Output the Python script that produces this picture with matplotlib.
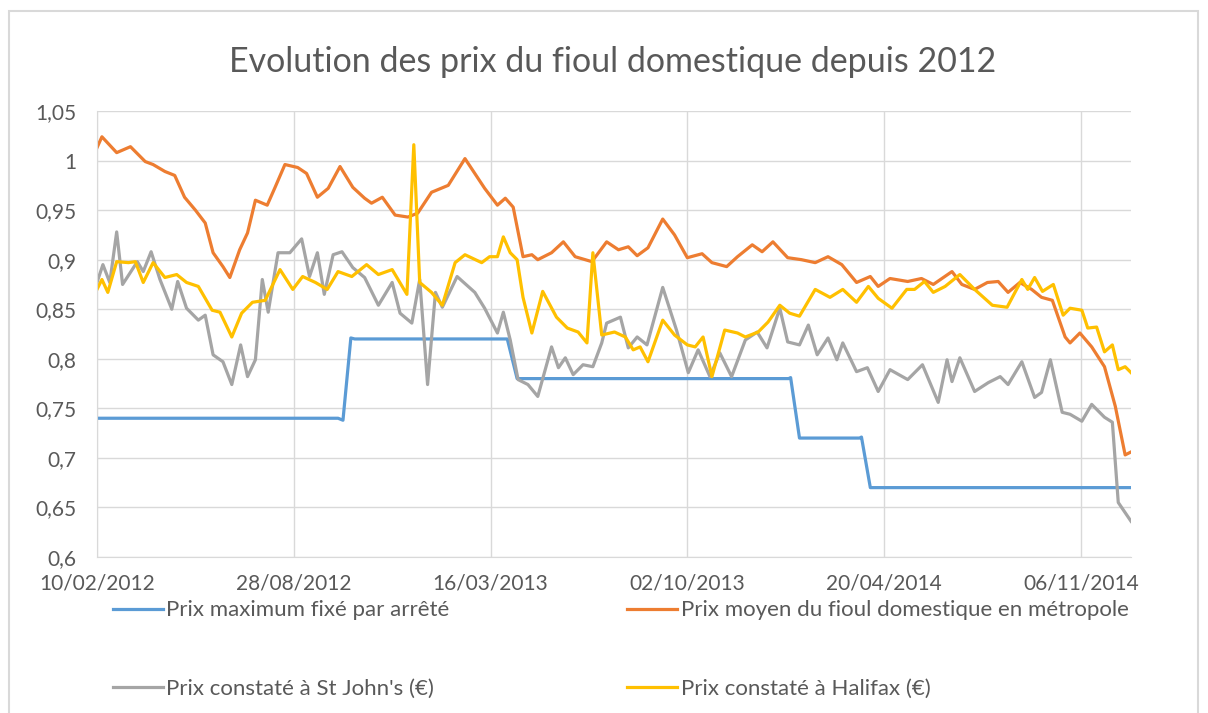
import pandas as pd
import matplotlib
matplotlib.use('Agg')
from matplotlib import pyplot as plt
from matplotlib.patches import Rectangle
from matplotlib.ticker import FuncFormatter

plt.rcParams['font.family'] = ['Lato', 'DejaVu Sans']

#données (jours depuis le 10/02/2012, prix en €/l)
start = pd.Timestamp('2012-02-10')

max_days = [0, 245, 250, 258, 262, 417, 427, 703, 705, 714, 775, 777, 786, 1051]
max_prix = [0.74, 0.74, 0.738, 0.821, 0.82, 0.82, 0.78, 0.78, 0.781, 0.72, 0.72, 0.721, 0.67, 0.67]

moyen_days = [0, 5, 20, 34, 49, 57, 69, 79, 89, 100, 110, 118, 128, 135, 145, 153, 161, 173,
              181, 191, 204, 213, 224, 235, 247, 260, 272, 279, 290, 303, 316, 326, 340, 357,
              374, 394, 407, 415, 423, 433, 442, 448, 462, 474, 486, 503, 518, 530, 540, 549,
              560, 575, 587, 600, 615, 625, 640, 651, 666, 676, 687, 702, 716, 730, 743, 757,
              772, 786, 794, 806, 824, 838, 850, 869, 879, 892, 905, 916, 926, 938, 950, 960,
              971, 984, 989, 999, 1011, 1024, 1035, 1045, 1051]
moyen_prix = [1.013, 1.024, 1.008, 1.014, 0.999, 0.996, 0.989, 0.985, 0.963, 0.95, 0.937, 0.907,
              0.893, 0.882, 0.91, 0.927, 0.96, 0.955, 0.973, 0.996, 0.993, 0.987, 0.963, 0.972,
              0.994, 0.973, 0.962, 0.957, 0.963, 0.945, 0.943, 0.947, 0.968, 0.975, 1.002, 0.972,
              0.955, 0.962, 0.953, 0.903, 0.905, 0.9, 0.907, 0.918, 0.903, 0.898, 0.918, 0.91,
              0.913, 0.904, 0.912, 0.941, 0.925, 0.902, 0.906, 0.897, 0.893, 0.903, 0.915, 0.908,
              0.918, 0.902, 0.9, 0.897, 0.903, 0.895, 0.877, 0.883, 0.873, 0.881, 0.878, 0.881,
              0.875, 0.888, 0.875, 0.87, 0.877, 0.878, 0.867, 0.877, 0.87, 0.862, 0.859, 0.822,
              0.816, 0.826, 0.812, 0.792, 0.752, 0.703, 0.706]

stjohns_days = [0, 6, 13, 20, 26, 41, 47, 55, 64, 76, 82, 91, 103, 110, 118, 128, 137, 146, 153,
                161, 168, 174, 184, 196, 208, 216, 224, 231, 240, 249, 260, 272, 286, 300, 308,
                320, 328, 336, 344, 351, 366, 384, 394, 407, 413, 420, 428, 438, 448, 462, 469,
                476, 484, 494, 504, 513, 518, 532, 540, 549, 559, 575, 589, 601, 611, 623, 633,
                645, 659, 671, 681, 694, 702, 714, 723, 732, 743, 752, 758, 772, 783, 794, 806,
                824, 839, 855, 864, 869, 877, 892, 906, 918, 926, 940, 953, 960, 969, 981, 989,
                1001, 1011, 1024, 1032, 1038, 1051]
stjohns_prix = [0.877, 0.895, 0.877, 0.928, 0.875, 0.898, 0.888, 0.908, 0.88, 0.85, 0.878, 0.851,
                0.839, 0.844, 0.804, 0.797, 0.774, 0.814, 0.782, 0.799, 0.88, 0.847, 0.907, 0.907,
                0.921, 0.883, 0.907, 0.865, 0.905, 0.908, 0.892, 0.882, 0.854, 0.877, 0.846, 0.836,
                0.88, 0.774, 0.867, 0.852, 0.883, 0.867, 0.851, 0.826, 0.847, 0.819, 0.779, 0.774,
                0.762, 0.812, 0.791, 0.801, 0.784, 0.794, 0.792, 0.816, 0.836, 0.842, 0.811, 0.822,
                0.814, 0.872, 0.829, 0.786, 0.809, 0.782, 0.806, 0.782, 0.819, 0.827, 0.811, 0.851,
                0.817, 0.814, 0.834, 0.804, 0.821, 0.799, 0.816, 0.787, 0.791, 0.767, 0.789, 0.779,
                0.794, 0.756, 0.799, 0.777, 0.801, 0.767, 0.776, 0.782, 0.774, 0.797, 0.761, 0.766,
                0.799, 0.746, 0.744, 0.737, 0.754, 0.741, 0.736, 0.655, 0.636]

halifax_days = [0, 5, 11, 20, 32, 39, 47, 57, 69, 81, 91, 103, 117, 125, 137, 147, 158, 171, 186,
                199, 209, 222, 234, 245, 259, 274, 286, 300, 315, 322, 328, 340, 351, 364, 374,
                391, 399, 407, 413, 420, 427, 433, 442, 453, 467, 478, 489, 498, 504, 513, 526,
                537, 545, 552, 560, 575, 587, 600, 608, 616, 625, 638, 651, 659, 672, 682, 694,
                704, 714, 730, 745, 758, 772, 784, 794, 808, 823, 831, 841, 850, 862, 877, 892,
                910, 925, 940, 946, 953, 961, 972, 982, 989, 1001, 1007, 1016, 1024, 1032, 1038,
                1045, 1051]
halifax_prix = [0.87, 0.88, 0.867, 0.898, 0.897, 0.898, 0.877, 0.897, 0.882, 0.885, 0.877, 0.873,
                0.849, 0.847, 0.822, 0.846, 0.857, 0.859, 0.89, 0.87, 0.883, 0.877, 0.87, 0.888,
                0.883, 0.895, 0.885, 0.89, 0.865, 1.016, 0.877, 0.867, 0.854, 0.897, 0.905, 0.897,
                0.903, 0.903, 0.923, 0.907, 0.9, 0.862, 0.826, 0.868, 0.842, 0.831, 0.827, 0.816,
                0.907, 0.824, 0.827, 0.822, 0.809, 0.812, 0.797, 0.839, 0.824, 0.814, 0.812, 0.822,
                0.782, 0.829, 0.826, 0.822, 0.827, 0.837, 0.854, 0.846, 0.843, 0.87, 0.862, 0.87,
                0.857, 0.873, 0.861, 0.851, 0.87, 0.87, 0.878, 0.867, 0.873, 0.885, 0.87, 0.854,
                0.852, 0.88, 0.87, 0.882, 0.868, 0.875, 0.844, 0.851, 0.849, 0.831, 0.832, 0.807,
                0.814, 0.789, 0.792, 0.786]

series = [
    ('Prix maximum fixé par arrêté', max_days, max_prix, '#5B9BD5'),
    ('Prix moyen du fioul domestique en métropole', moyen_days, moyen_prix, '#ED7D31'),
    ("Prix constaté à St John's (€)", stjohns_days, stjohns_prix, '#A5A5A5'),
    ('Prix constaté à Halifax (€)', halifax_days, halifax_prix, '#FFC000'),
]

fig = plt.figure(figsize=(12.08, 7.13), dpi=100)
ax = fig.add_axes([0.0803, 0.2188, 0.856, 0.6255])

#cadre du graphique
fig.patches.append(Rectangle((0.0075, -0.05), 0.984, 1.035, transform=fig.transFigure,
                             fill=False, edgecolor='#d9d9d9', lw=1.5))

lines = []
for label, days, prix, color in series:
    dates = start + pd.to_timedelta(days, unit='D')
    line, = ax.plot(dates, prix, color=color, lw=2.3, label=label, solid_joinstyle='round')
    lines.append(line)

ax.set_ylim(0.6, 1.05)
ax.set_yticks([0.6 + 0.05 * i for i in range(10)])
ax.yaxis.set_major_formatter(FuncFormatter(
    lambda v, p: f'{v:.2f}'.rstrip('0').rstrip('.').replace('.', ',')))

ax.set_xlim(start, start + pd.Timedelta(days=1051))
ticks = pd.date_range(start, periods=6, freq='200D')
ax.set_xticks(ticks)
ax.set_xticklabels([t.strftime('%d/%m/%Y') for t in ticks])

ax.grid(True, color='#d9d9d9', lw=1)
ax.set_axisbelow(True)
for s in ['top', 'right']:
    ax.spines[s].set_visible(False)
for s in ['left', 'bottom']:
    ax.spines[s].set_color('#d9d9d9')
ax.tick_params(length=0, labelsize=15, labelcolor='#595959')
ax.tick_params(axis='x', pad=12)
ax.tick_params(axis='y', pad=15)

fig.suptitle('Evolution des prix du fioul domestique depuis 2012', x=0.507, y=0.935,
             fontsize=24.5, color='#595959')

#légende sur deux colonnes, remplie ligne par ligne
order = [0, 2, 1, 3]
fig.legend([lines[i] for i in order], [series[i][0] for i in order],
           loc='upper left', bbox_to_anchor=(0.0935, 0.158), ncol=2, frameon=False,
           fontsize=16, labelcolor='#595959', handlelength=2.25, handletextpad=0.15,
           columnspacing=8.0, labelspacing=2.65, borderpad=0, borderaxespad=0)

plt.savefig('out.png', dpi=100)
